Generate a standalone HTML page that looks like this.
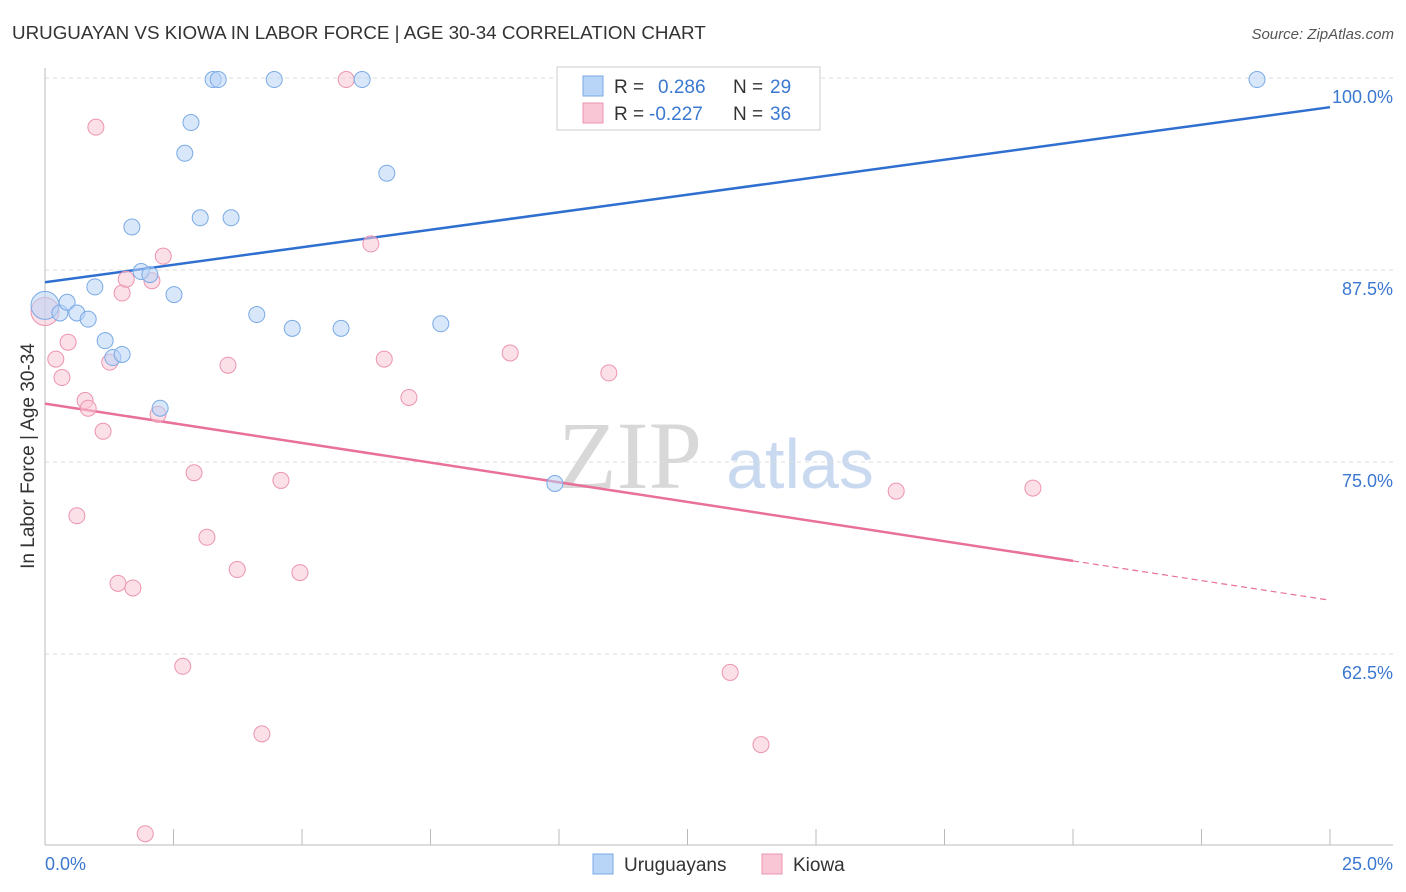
<!DOCTYPE html>
<html><head><meta charset="utf-8">
<style>
body{margin:0;background:#fff;font-family:"Liberation Sans",sans-serif;}
svg{display:block}
</style></head>
<body>
<svg width="1406" height="892">
<text x="12" y="39" font-size="18.8" fill="#333">URUGUAYAN VS KIOWA IN LABOR FORCE | AGE 30-34 CORRELATION CHART</text>
<text x="1394" y="39" font-size="15" fill="#555" font-style="italic" text-anchor="end">Source: ZipAtlas.com</text>
<text x="630" y="488" font-size="96" fill="#d8d8d8" font-family="Liberation Serif,serif" text-anchor="middle">ZIP</text>
<text x="800" y="488" font-size="70" fill="#c9daf0" text-anchor="middle">atlas</text>
<g id="grid"></g>
<g id="axes"></g>
<text transform="translate(34,456) rotate(-90)" font-size="19" fill="#333" text-anchor="middle">In Labor Force | Age 30-34</text>
<g id="trend"></g>
<g id="pts"></g>
<g>
<rect x="557" y="67" width="263" height="63" fill="#fff" stroke="#ccc"/>
<rect x="583" y="76" width="20" height="20" fill="#b8d4f6" stroke="#7aaae6"/>
<text x="614" y="93" font-size="19" fill="#333">R = </text><text x="658" y="93" font-size="19" fill="#3b78d0">0.286</text>
<text x="733" y="93" font-size="19" fill="#333">N = </text><text x="770" y="93" font-size="19" fill="#3b78d0">29</text>
<rect x="583" y="103" width="20" height="20" fill="#f9c6d5" stroke="#ec94b0"/>
<text x="614" y="120" font-size="19" fill="#333">R = </text><text x="649" y="120" font-size="19" fill="#3b78d0">-0.227</text>
<text x="733" y="120" font-size="19" fill="#333">N = </text><text x="770" y="120" font-size="19" fill="#3b78d0">36</text>
</g>
<g>
<rect x="593" y="854" width="20" height="20" fill="#b8d4f6" stroke="#7aaae6"/>
<text x="624" y="871" font-size="19" fill="#333">Uruguayans</text>
<rect x="762" y="854" width="20" height="20" fill="#f9c6d5" stroke="#ec94b0"/>
<text x="793" y="871" font-size="19" fill="#333">Kiowa</text>
</g>
</svg>
<script>
const blueX=[0,0.29,0.43,0.62,0.84,0.97,1.17,1.32,1.50,1.69,1.87,2.04,2.24,2.51,2.72,2.84,3.02,3.27,3.37,3.62,4.12,4.46,4.81,5.76,6.17,6.65,7.70,9.92,23.58];
const blueY=[85.2,84.7,85.4,84.7,84.3,86.4,82.9,81.8,82.0,90.3,87.4,87.2,78.5,85.9,95.1,97.1,90.9,99.9,99.9,90.9,84.6,99.9,83.7,83.7,99.9,93.8,84.0,73.6,99.9];
const pinkX=[0,0.21,0.33,0.45,0.62,0.78,0.84,0.99,1.13,1.26,1.42,1.50,1.58,1.71,1.95,2.08,2.20,2.30,2.68,2.90,3.15,3.56,3.74,4.22,4.59,4.96,5.86,6.34,6.60,7.08,9.05,10.97,13.33,13.93,16.56,19.22];
const pinkY=[84.8,81.7,80.5,82.8,71.5,79.0,78.5,96.8,77.0,81.5,67.1,86.0,86.9,66.8,50.8,86.8,78.1,88.4,61.7,74.3,70.1,81.3,68.0,57.3,73.8,67.8,99.9,89.2,81.7,79.2,82.1,80.8,61.3,56.6,73.1,73.3];
const blueTrend=[86.7,98.1];
const pinkTrend=[78.8,66.0];
const pinkSolidEnd=20;
const yTicks=[100,87.5,75,62.5];
const yTickLabels=["100.0%","87.5%","75.0%","62.5%"];
const NS="http://www.w3.org/2000/svg";
const X=v=>45+v/25*1285;
const Y=v=>78+(100-v)*15.36;
function mk(t,a,p){const e=document.createElementNS(NS,t);for(const k in a)e.setAttribute(k,a[k]);p.appendChild(e);return e;}
const grid=document.getElementById('grid'),axes=document.getElementById('axes');
yTicks.forEach((t,i)=>{
 const l=mk('line',{x1:45,x2:1393,y1:Y(t),y2:Y(t),stroke:'#ddd','stroke-dasharray':'4,4'},grid);
 
 
 const tx=mk('text',{x:1393,y:Y(t)+25,'font-size':18,fill:'#3b78d0','text-anchor':'end'},axes);
 tx.textContent=yTickLabels[i];
 
 
});
const ax=mk('line',{x1:45,x2:45,y1:68,y2:845,stroke:'#bbb'},axes);


const bx=mk('line',{x1:45,x2:1393,y1:845,y2:845,stroke:'#bbb'},axes);


for(let i=0;i<=10;i++){const v=i*2.5;const t=mk('line',{x1:X(v),x2:X(v),y1:829,y2:845,stroke:'#bbb'},axes);
 
 }
[[0,"0.0%","start",45],[25,"25.0%","end",1393]].forEach(d=>{const t=mk('text',{x:d[3],y:870,'font-size':18,fill:'#3b78d0','text-anchor':d[2]},axes);t.textContent=d[1];
 
 });
const pts=document.getElementById('pts'),tr=document.getElementById('trend');
function dots(xs,ys,fill,stroke,name){xs.forEach((x,i)=>{const c=mk('circle',{cx:X(x),cy:Y(ys[i]),r:i==0?14:8,fill:fill,'fill-opacity':0.55,stroke:stroke,'stroke-width':1},pts);
 
 });}
dots(pinkX,pinkY,'#f9c6d5','#ec94b0','kiowa-point');
dots(blueX,blueY,'#b8d4f6','#7aaae6','uruguayan-point');
const bl=mk('line',{x1:X(0),y1:Y(blueTrend[0]),x2:X(25),y2:Y(blueTrend[1]),stroke:'#2f6fd0','stroke-width':2.5},tr);


const pm=pinkTrend[0]+(pinkTrend[1]-pinkTrend[0])*pinkSolidEnd/25;
const pl=mk('line',{x1:X(0),y1:Y(pinkTrend[0]),x2:X(pinkSolidEnd),y2:Y(pm),stroke:'#e8709a','stroke-width':2.5},tr);


const pd=mk('line',{x1:X(pinkSolidEnd),y1:Y(pm),x2:X(25),y2:Y(pinkTrend[1]),stroke:'#e8709a','stroke-width':1.2,'stroke-dasharray':'6,4'},tr);


</script>
</body></html>
